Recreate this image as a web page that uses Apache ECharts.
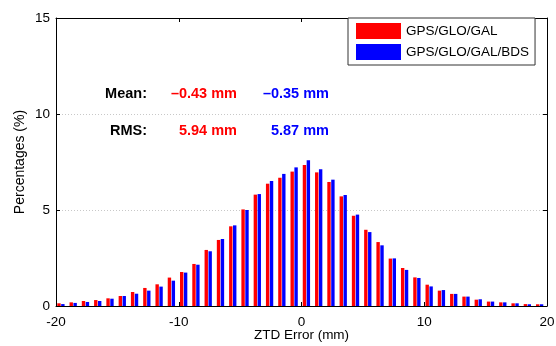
<!DOCTYPE html>
<html>
<head>
<meta charset="UTF-8">
<title>ZTD Error</title>
<script type="text/javascript" src="https://cdn.jsdelivr.net/npm/echarts@6/dist/echarts.min.js"></script>
<style type="text/css">
body {
	margin: 0;
	background-color: #fff
}
</style>
</head>
<body>
	<div id="chart" style="width: 556px; height: 346px"></div>
</body>
<script type="text/javascript">
	// bin centres (mm)
	var binCenters = [];
	for (var k = -20; k < 20; k++) {
		binCenters.push(k + 0.4);
	}
	// percentages
	var gpsGloGal = [0.14, 0.19, 0.26, 0.31, 0.40, 0.52, 0.73, 0.94, 1.13, 1.48,
		1.77, 2.19, 2.92, 3.44, 4.15, 5.03, 5.80, 6.37, 6.68, 7.00,
		7.34, 6.96, 6.46, 5.71, 4.70, 3.97, 3.33, 2.47, 1.98, 1.49,
		1.11, 0.80, 0.63, 0.49, 0.33, 0.23, 0.19, 0.14, 0.10, 0.09];
	var gpsGloGalBds = [0.10, 0.16, 0.21, 0.26, 0.38, 0.52, 0.64, 0.80, 1.01, 1.32,
		1.74, 2.15, 2.85, 3.49, 4.20, 5.00, 5.83, 6.51, 6.88, 7.22,
		7.59, 7.12, 6.58, 5.78, 4.76, 3.85, 3.16, 2.48, 1.88, 1.46,
		1.02, 0.83, 0.63, 0.49, 0.35, 0.23, 0.19, 0.14, 0.09, 0.09];
	var seriesNames = ['GPS/GLO/GAL', 'GPS/GLO/GAL/BDS'];
	var meanText = ['\u20130.43 mm', '\u20130.35 mm'];
	var rmsText = ['5.94 mm', '5.87 mm'];

	function pairs(vals) {
		var out = [];
		for (var i = 0; i < vals.length; i++) {
			out.push([binCenters[i], vals[i]]);
		}
		return out;
	}

	var font = 'Arial, "Liberation Sans", Helvetica, sans-serif';
	var boldFont = 'bold 14.5px ' + font;
	var myChart = echarts.init(document.getElementById("chart"));
	var option = {
		animation : false,
		textStyle : { fontFamily : font },
		grid : { left : 56, right : 9, top : 18, bottom : 40, outerBoundsMode : 'none' },
		legend : {
			orient : 'vertical',
			left : 348,
			top : 18,
			width : 199,
			padding : [5, 6, 5, 8],
			itemGap : 5,
			itemWidth : 45,
			itemHeight : 16,
			icon : 'rect',
			borderColor : '#333',
			borderWidth : 1,
			backgroundColor : '#fff',
			textStyle : { fontSize : 13.5, color : '#000', fontFamily : font },
			data : seriesNames
		},
		xAxis : [ {
			type : 'value',
			min : -20,
			max : 20,
			interval : 10,
			name : 'ZTD Error (mm)',
			nameLocation : 'middle',
			nameGap : 22,
			nameMoveOverlap : false,
			nameTextStyle : { fontSize : 13.5, color : '#000' },
			axisLine : { onZero : false, lineStyle : { color : '#000' } },
			axisTick : { inside : true, length : 4, lineStyle : { color : '#000' } },
			axisLabel : { fontSize : 13.5, color : '#000', margin : 9 },
			splitLine : { show : false }
		}, {
			type : 'value',
			position : 'top',
			min : -20,
			max : 20,
			interval : 10,
			axisLine : { onZero : false, lineStyle : { color : '#000' } },
			axisTick : { inside : true, length : 4, lineStyle : { color : '#000' } },
			axisLabel : { show : false },
			splitLine : { show : false }
		} ],
		yAxis : [ {
			type : 'value',
			min : 0,
			max : 15,
			interval : 5,
			name : 'Percentages (%)',
			nameLocation : 'middle',
			nameGap : 29,
			nameMoveOverlap : false,
			nameTextStyle : { fontSize : 14, color : '#000' },
			axisLine : { show : true, onZero : false, lineStyle : { color : '#000' } },
			axisTick : { show : true, inside : true, length : 4, lineStyle : { color : '#000' } },
			axisLabel : { fontSize : 13.5, color : '#000', margin : 6 },
			splitLine : { lineStyle : { color : '#c8c8c8', type : [1, 2] } }
		}, {
			type : 'value',
			position : 'right',
			min : 0,
			max : 15,
			interval : 5,
			axisLine : { show : true, onZero : false, lineStyle : { color : '#000' } },
			axisTick : { show : true, inside : true, length : 4, lineStyle : { color : '#000' } },
			axisLabel : { show : false },
			splitLine : { show : false }
		} ],
		series : [ {
			name : seriesNames[0],
			type : 'bar',
			barWidth : 3.4,
			barGap : '15%',
			itemStyle : { color : '#ff0000' },
			data : pairs(gpsGloGal)
		}, {
			name : seriesNames[1],
			type : 'bar',
			barWidth : 3.4,
			barGap : '15%',
			itemStyle : { color : '#0000ff' },
			data : pairs(gpsGloGalBds)
		} ],
		graphic : [
			{ type : 'text', x : 147, y : 94, style : { text : 'Mean:', align : 'right', verticalAlign : 'middle', font : boldFont, fill : '#000' } },
			{ type : 'text', x : 147, y : 131, style : { text : 'RMS:', align : 'right', verticalAlign : 'middle', font : boldFont, fill : '#000' } },
			{ type : 'text', x : 237, y : 94, style : { text : meanText[0], align : 'right', verticalAlign : 'middle', font : boldFont, fill : '#ff0000' } },
			{ type : 'text', x : 329, y : 94, style : { text : meanText[1], align : 'right', verticalAlign : 'middle', font : boldFont, fill : '#0000ff' } },
			{ type : 'text', x : 237, y : 131, style : { text : rmsText[0], align : 'right', verticalAlign : 'middle', font : boldFont, fill : '#ff0000' } },
			{ type : 'text', x : 329, y : 131, style : { text : rmsText[1], align : 'right', verticalAlign : 'middle', font : boldFont, fill : '#0000ff' } }
		]
	};
	myChart.setOption(option);
</script>
</html>
